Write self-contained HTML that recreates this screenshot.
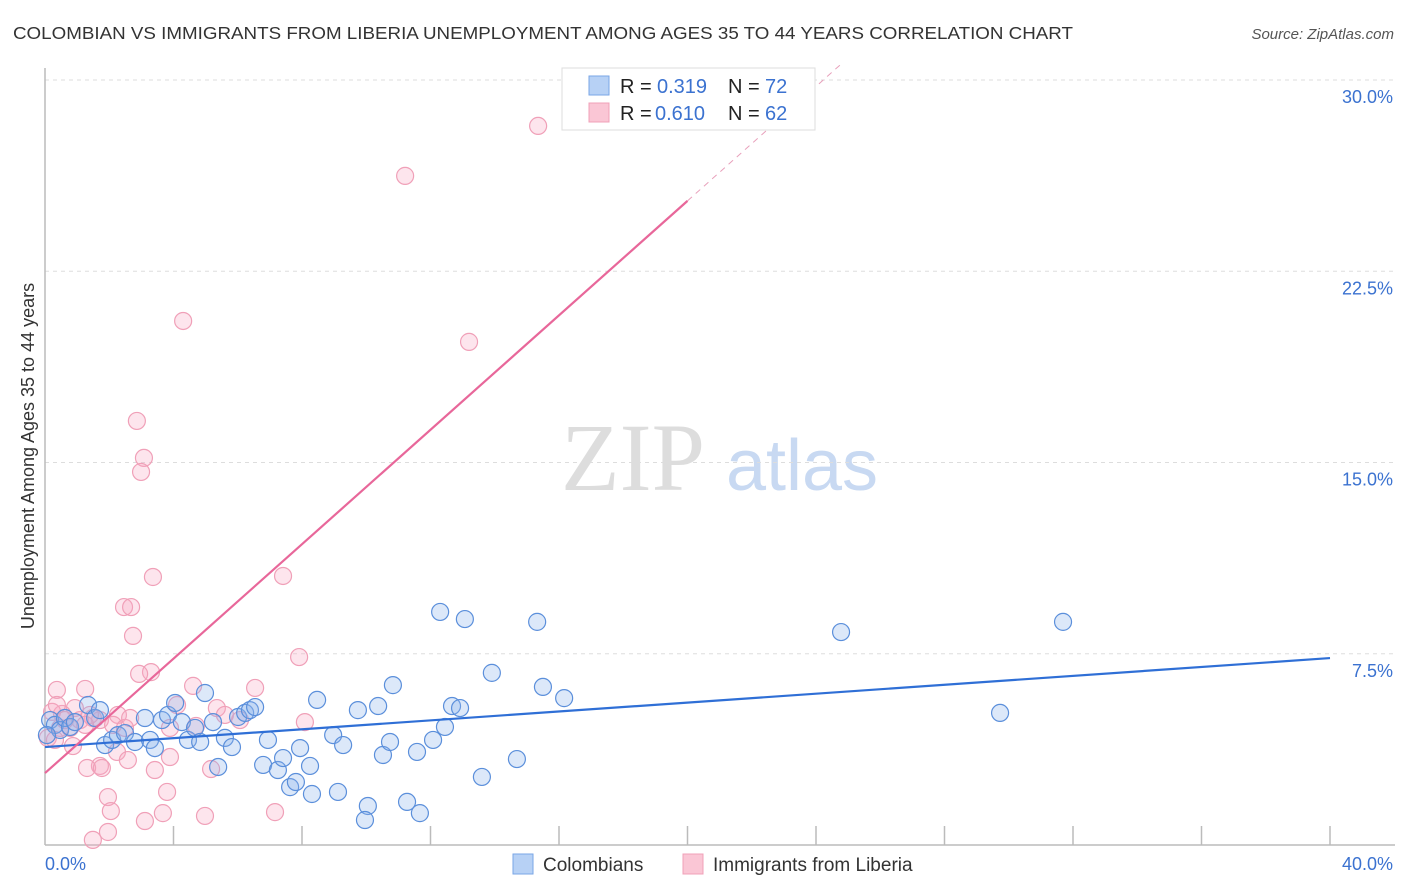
<!DOCTYPE html>
<html><head><meta charset="utf-8"><style>
body{margin:0;background:#fff;font-family:"Liberation Sans",sans-serif;}
</style></head><body>
<svg id="chart" width="1406" height="892" xmlns="http://www.w3.org/2000/svg" style="display:block">
<text x="13" y="39" font-size="17.5" fill="#333" textLength="1060" lengthAdjust="spacingAndGlyphs">COLOMBIAN VS IMMIGRANTS FROM LIBERIA UNEMPLOYMENT AMONG AGES 35 TO 44 YEARS CORRELATION CHART</text>
<text x="1394" y="39" font-size="15" fill="#555" font-style="italic" text-anchor="end">Source: ZipAtlas.com</text>
<text x="633" y="490" font-size="96" fill="#ddd" font-family="Liberation Serif,serif" text-anchor="middle">ZIP</text>
<text x="802" y="490" font-size="72" fill="#c8d9f2" text-anchor="middle">atlas</text>
<text transform="translate(34,456) rotate(-90)" font-size="18" fill="#333" text-anchor="middle">Unemployment Among Ages 35 to 44 years</text>
<g id="grid"></g><g id="axes"></g><g id="pts"></g><g id="lines"></g>
<g>
<rect x="562" y="68" width="253" height="62" fill="#fff" stroke="#ddd"/>
<rect x="589" y="76" width="20" height="19" fill="#b7d1f5" stroke="#7aa6e6"/>
<rect x="589" y="103" width="20" height="19" fill="#fac6d5" stroke="#f0a0b8"/>
<text x="620" y="93" font-size="20" fill="#222">R =</text>
<text x="657" y="93" font-size="20" fill="#3b72d0">0.319</text>
<text x="728" y="93" font-size="20" fill="#222">N =</text>
<text x="765" y="93" font-size="20" fill="#3b72d0">72</text>
<text x="620" y="120" font-size="20" fill="#222">R =</text>
<text x="655" y="120" font-size="20" fill="#3b72d0">0.610</text>
<text x="728" y="120" font-size="20" fill="#222">N =</text>
<text x="765" y="120" font-size="20" fill="#3b72d0">62</text>
</g>
<g>
<rect x="513" y="854" width="20" height="20" fill="#b7d1f5" stroke="#7aa6e6"/>
<text x="543" y="871" font-size="19" fill="#333">Colombians</text>
<rect x="683" y="854" width="20" height="20" fill="#fac6d5" stroke="#f0a0b8"/>
<text x="713" y="871" font-size="19" fill="#333">Immigrants from Liberia</text>
</g>
</svg>
<script>
const yTicks=[7.5,15,22.5,30];
const yTickLabels=["7.5%","15.0%","22.5%","30.0%"];
const xTicks=[4,8,12,16,20,24,28,32,36,40];
const blueX=[0.16,0.31,0.47,0.62,0.78,0.93,1.34,1.56,1.71,1.87,2.09,2.27,2.49,2.80,3.11,3.27,3.42,3.64,3.83,4.05,4.26,4.45,4.67,4.83,4.98,5.23,5.39,5.60,5.82,6.01,6.23,6.38,6.54,6.79,6.94,7.25,7.41,7.63,7.81,7.94,8.25,8.31,8.47,8.97,9.12,9.28,9.74,10.05,9.96,10.37,10.52,10.74,10.83,11.27,11.58,11.67,12.08,12.30,12.45,12.67,12.92,13.07,13.60,13.91,14.69,15.32,15.50,16.16,24.78,29.73,31.69,0.06];
const blueY=[4.90,4.71,4.51,4.98,4.63,4.82,5.49,4.98,5.29,3.92,4.12,4.31,4.39,4.04,4.98,4.12,3.80,4.90,5.10,5.57,4.82,4.12,4.59,4.04,5.96,4.82,3.06,4.20,3.84,5.02,5.18,5.29,5.41,3.14,4.12,2.94,3.41,2.27,2.47,3.80,3.10,2.00,5.69,4.31,2.08,3.92,5.29,1.53,0.98,5.45,3.53,4.04,6.27,1.69,3.65,1.25,4.12,9.14,4.63,5.45,5.37,8.86,2.67,6.75,3.37,8.75,6.20,5.76,8.35,5.18,8.75,4.31];
const pinkX=[15.35,11.21,4.30,13.20,2.86,3.08,2.99,3.36,7.41,2.46,2.68,2.74,3.30,2.93,7.91,0.37,1.25,4.61,6.54,5.35,4.11,0.93,0.53,1.49,2.27,0.22,1.09,1.71,2.12,2.49,0.78,6.07,8.09,3.89,4.70,0.09,0.87,2.24,2.58,1.71,1.31,3.42,1.77,3.89,5.17,1.96,3.80,2.05,3.11,3.67,4.98,7.16,1.96,1.49,0.47,0.62,1.40,0.31,1.25,2.65,0.37,5.60];
const pinkY=[28.20,26.24,20.55,19.73,16.63,15.18,14.63,10.51,10.55,9.33,9.33,8.20,6.78,6.71,7.37,6.08,6.12,6.24,6.16,5.37,5.49,5.37,5.14,4.98,5.10,5.22,4.90,4.90,4.71,4.59,4.59,4.90,4.82,4.59,4.67,4.20,3.88,3.65,3.33,3.10,3.02,2.94,3.02,3.45,2.98,1.88,2.08,1.33,0.94,1.25,1.14,1.29,0.51,0.20,4.59,4.90,5.10,4.12,4.71,4.98,5.49,5.10];
const blueTrend=[3.84,7.33];
const pinkTrend=[2.82,1.122];
const NS="http://www.w3.org/2000/svg";
const sx=v=>45+v*32.125, sy=v=>845-v*25.5;
function mk(t,a,p){const e=document.createElementNS(NS,t);for(const k in a)e.setAttribute(k,a[k]);p.appendChild(e);return e;}
const grid=document.getElementById('grid'),axes=document.getElementById('axes'),pts=document.getElementById('pts'),lines=document.getElementById('lines');
yTicks.forEach((t,i)=>{
 const l=mk('line',{x1:45,x2:1395,y1:sy(t),y2:sy(t),stroke:'#ddd','stroke-dasharray':'4,4'},grid);
 
 
 const tx=mk('text',{x:1393,y:sy(t)+23,'font-size':18,fill:'#3b72d0','text-anchor':'end'},axes);
 tx.textContent=yTickLabels[i];
 
 
});
let a=mk('line',{x1:45,x2:45,y1:68,y2:845,stroke:'#bbb','stroke-width':1.5},axes);


a=mk('line',{x1:45,x2:1395,y1:845,y2:845,stroke:'#bbb','stroke-width':1.5},axes);


xTicks.forEach(t=>{const l=mk('line',{x1:sx(t),x2:sx(t),y1:826,y2:845,stroke:'#bbb','stroke-width':1.5},axes);
 
 });
let t0=mk('text',{x:45,y:870,'font-size':18,fill:'#3b72d0'},axes);t0.textContent='0.0%';


t0=mk('text',{x:1393,y:870,'font-size':18,fill:'#3b72d0','text-anchor':'end'},axes);t0.textContent='40.0%';


pinkX.forEach((x,i)=>{const c=mk('circle',{cx:sx(x),cy:sy(pinkY[i]),r:8.5,fill:'rgba(248,170,195,0.3)',stroke:'#f0a0b8','stroke-width':1.2},pts);
 
 });
blueX.forEach((x,i)=>{const c=mk('circle',{cx:sx(x),cy:sy(blueY[i]),r:8.5,fill:'rgba(140,180,235,0.3)',stroke:'#5b8fdb','stroke-width':1.2},pts);
 
 });
let l=mk('line',{x1:sx(0),y1:sy(blueTrend[0]),x2:sx(40),y2:sy(blueTrend[1]),stroke:'#2f6fd6','stroke-width':2.2},lines);


l=mk('line',{x1:sx(0),y1:sy(pinkTrend[0]),x2:sx(20),y2:sy(pinkTrend[0]+pinkTrend[1]*20),stroke:'#e8679a','stroke-width':2.2},lines);


const xe=(30.6-pinkTrend[0])/pinkTrend[1];
l=mk('line',{x1:sx(20),y1:sy(pinkTrend[0]+pinkTrend[1]*20),x2:sx(xe),y2:sy(30.6),stroke:'#e8a0bb','stroke-width':1,'stroke-dasharray':'6,5'},lines);


</script>
</body></html>
